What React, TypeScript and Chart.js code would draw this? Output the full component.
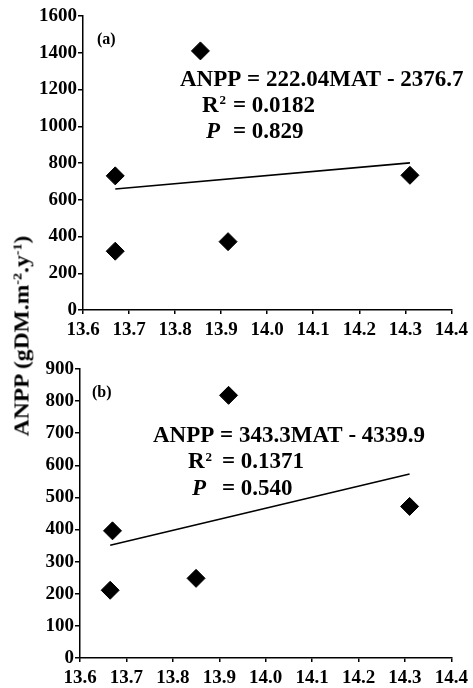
import React, { useEffect, useRef } from "react";
import { Chart, registerables } from "chart.js";

Chart.register(...registerables);

const SERIF = "'Liberation Serif', 'Times New Roman', Times, serif";

// Shared x axis: mean annual temperature (°C)
const matTicks = [13.6, 13.7, 13.8, 13.9, 14.0, 14.1, 14.2, 14.3, 14.4];

// Panel (a)
const matA = [13.67, 13.67, 13.855, 13.915, 14.31];
const anppA = [730, 320, 1410, 372, 733];
const slopeA = 222.04;
const interceptA = -2376.7;
const r2A = "0.0182";
const pA = "0.829";
const anppTicksA = [0, 200, 400, 600, 800, 1000, 1200, 1400, 1600];

// Panel (b)
const matB = [13.67, 13.665, 13.85, 13.92, 14.31];
const anppB = [396, 211, 248, 818, 472];
const slopeB = 343.3;
const interceptB = -4339.9;
const r2B = "0.1371";
const pB = "0.540";
const anppTicksB = [0, 100, 200, 300, 400, 500, 600, 700, 800, 900];

const W = 473;
const PANEL_H = 344;

type Panel = {
  tag: string;
  mat: number[];
  anpp: number[];
  slope: number;
  intercept: number;
  r2: string;
  p: string;
  yTicks: number[];
  area: { left: number; top: number; right: number; bottom: number };
  text: { tagX: number; tagY: number; eqX: number; eqY: number; statX: number; eqSignX: number; gap: number };
};

const panels: Panel[] = [
  {
    tag: "(a)",
    mat: matA,
    anpp: anppA,
    slope: slopeA,
    intercept: interceptA,
    r2: r2A,
    p: pA,
    yTicks: anppTicksA,
    area: { left: 83, top: 16, right: 457, bottom: 310 },
    text: { tagX: 97, tagY: 40, eqX: 180, eqY: 80, statX: 202, eqSignX: 233, gap: 26 },
  },
  {
    tag: "(b)",
    mat: matB,
    anpp: anppB,
    slope: slopeB,
    intercept: interceptB,
    r2: r2B,
    p: pB,
    yTicks: anppTicksB,
    area: { left: 80, top: 25, right: 459, bottom: 314 },
    text: { tagX: 92, tagY: 49, eqX: 153, eqY: 92, statX: 188, eqSignX: 222, gap: 26.5 },
  },
];

function fmtNum(v: number) {
  return String(Math.abs(v));
}

function PanelChart({ panel, top }: { panel: Panel; top: number }) {
  const ref = useRef<HTMLCanvasElement | null>(null);

  useEffect(() => {
    const canvas = ref.current;
    if (!canvas) return;

    const xMin = Math.min(...panel.mat);
    const xMax = Math.max(...panel.mat);
    const fit = [xMin, xMax].map((x) => ({ x, y: panel.slope * x + panel.intercept }));
    const points = panel.mat.map((x, i) => ({ x, y: panel.anpp[i] }));

    const textPlugin = {
      id: "panelText",
      afterDraw(chart: Chart) {
        const ctx = chart.ctx;
        const t = panel.text;
        ctx.save();
        ctx.fillStyle = "#000";
        ctx.textAlign = "left";
        ctx.textBaseline = "middle";
        ctx.font = `bold 16px ${SERIF}`;
        ctx.fillText(panel.tag, t.tagX, t.tagY);

        ctx.font = `bold 23px ${SERIF}`;
        const eq = `ANPP = ${panel.slope}MAT - ${fmtNum(panel.intercept)}`;
        ctx.fillText(eq, t.eqX, t.eqY);

        // R with a small raised 2
        const y2 = t.eqY + t.gap;
        ctx.fillText("R", t.statX, y2);
        const rW = ctx.measureText("R").width;
        ctx.fillText(`= ${panel.r2}`, t.eqSignX, y2);
        ctx.font = `bold 13px ${SERIF}`;
        ctx.fillText("2", t.statX + rW + 1, y2 - 5);

        const y3 = t.eqY + 2 * t.gap;
        ctx.font = `bold 23px ${SERIF}`;
        ctx.fillText(`= ${panel.p}`, t.eqSignX, y3);
        ctx.font = `italic bold 23px ${SERIF}`;
        ctx.fillText("P", t.statX + 4, y3);
        ctx.restore();
      },
    };

    const tickFont = { family: SERIF, size: 19, weight: "bold" as const };

    const chart = new Chart(canvas, {
      type: "scatter",
      data: {
        datasets: [
          {
            data: fit,
            showLine: true,
            borderColor: "#000",
            borderWidth: 1.6,
            pointRadius: 0,
            fill: false,
          },
          {
            data: points,
            showLine: false,
            pointStyle: "rectRot",
            pointRadius: 9,
            pointBackgroundColor: "#000",
            pointBorderColor: "#000",
            pointBorderWidth: 1,
          },
        ],
      },
      options: {
        animation: false,
        responsive: false,
        maintainAspectRatio: false,
        events: [],
        layout: {
          padding: { top: panel.area.top, right: W - panel.area.right, bottom: 0, left: 0 },
        },
        plugins: {
          legend: { display: false },
          tooltip: { enabled: false },
        },
        scales: {
          x: {
            type: "linear",
            min: matTicks[0],
            max: matTicks[matTicks.length - 1],
            afterBuildTicks: (scale: any) => {
              scale.ticks = matTicks.map((value) => ({ value }));
            },
            afterFit: (scale: any) => {
              scale.height = PANEL_H - panel.area.bottom;
            },
            ticks: {
              autoSkip: false,
              maxRotation: 0,
              color: "#000",
              font: tickFont,
              padding: 5,
              callback: (v: any) => Number(v).toFixed(1),
            },
            grid: {
              display: true,
              drawOnChartArea: false,
              drawTicks: true,
              tickLength: 4,
              color: "#000",
              lineWidth: 1.5,
            },
            border: { display: true, color: "#000", width: 1.5 },
          },
          y: {
            type: "linear",
            min: panel.yTicks[0],
            max: panel.yTicks[panel.yTicks.length - 1],
            afterBuildTicks: (scale: any) => {
              scale.ticks = panel.yTicks.map((value) => ({ value }));
            },
            afterFit: (scale: any) => {
              scale.width = panel.area.left;
            },
            ticks: {
              autoSkip: false,
              color: "#000",
              font: tickFont,
              padding: 1,
              callback: (v: any) => String(v),
            },
            grid: {
              display: true,
              drawOnChartArea: false,
              drawTicks: true,
              tickLength: 5,
              color: "#000",
              lineWidth: 1.5,
            },
            border: { display: true, color: "#000", width: 1.5 },
          },
        },
      },
      plugins: [textPlugin],
    });

    return () => chart.destroy();
  }, [panel]);

  return (
    <canvas
      ref={ref}
      width={W}
      height={PANEL_H}
      style={{ position: "absolute", left: 0, top, width: W, height: PANEL_H, display: "block" }}
    />
  );
}

export default function App() {
  return (
    <div
      style={{
        position: "absolute",
        left: 0,
        top: 0,
        width: W,
        height: 2 * PANEL_H,
        background: "#fff",
        overflow: "hidden",
      }}
    >
      <PanelChart panel={panels[0]} top={0} />
      <PanelChart panel={panels[1]} top={PANEL_H} />
      <div
        style={{
          position: "absolute",
          left: 22,
          top: 336,
          transform: "translate(-50%, -50%) rotate(-90deg) scaleX(1.12)",
          whiteSpace: "nowrap",
          fontFamily: SERIF,
          fontWeight: "bold",
          fontSize: 21,
          lineHeight: 1,
          color: "#000",
        }}
      >
        ANPP (gDM.m<sup style={{ fontSize: "0.6em", verticalAlign: "0.55em" }}>-2</sup>.y
        <sup style={{ fontSize: "0.6em", verticalAlign: "0.55em" }}>-1</sup>)
      </div>
    </div>
  );
}
